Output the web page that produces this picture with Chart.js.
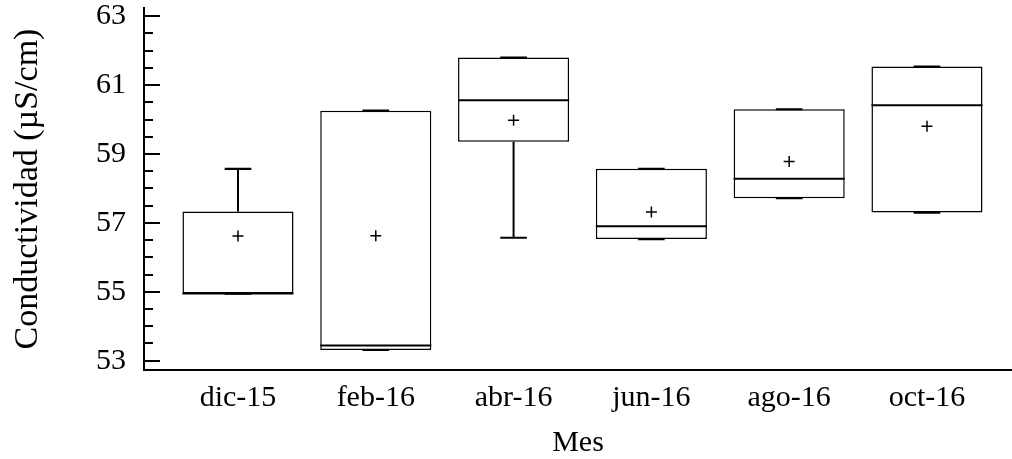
<!DOCTYPE html>
<html>
<head>
<meta charset="utf-8">
<script src="https://cdn.jsdelivr.net/npm/chart.js@4/dist/chart.umd.min.js"></script>
<style>
  html, body { margin: 0; padding: 0; background: #ffffff; }
  canvas { display: block; }
</style>
</head>
<body>
<canvas id="c" width="1012" height="459"></canvas>
<script>
// ---- data ----
const categories = ['dic-15', 'feb-16', 'abr-16', 'jun-16', 'ago-16', 'oct-16'];
const minValues    = [54.95, 53.31, 56.57, 56.53, 57.72, 57.30];
const q1Values     = [54.95, 53.31, 59.36, 56.53, 57.72, 57.30];
const medianValues = [54.95, 53.44, 60.56, 56.90, 58.28, 60.42];
const q3Values     = [57.33, 60.26, 61.80, 58.57, 60.30, 61.54];
const maxValues    = [58.57, 60.26, 61.80, 58.57, 60.30, 61.54];
const meanValues   = [56.62, 56.63, 59.98, 57.32, 58.78, 59.81];
const yTickLabels  = [53, 55, 57, 59, 61, 63];
const yMinorStep   = 0.5;

const FONT = "'Liberation Serif', 'Times New Roman', serif";

const boxExtras = {
  id: 'boxExtras',
  afterDatasetDraw(chart, args) {
    if (args.index !== 0) return;
    const ctx = chart.ctx;
    const x = chart.scales.x, y = chart.scales.y;
    const meta = chart.getDatasetMeta(0);
    ctx.save();
    ctx.strokeStyle = '#000';
    categories.forEach((c, i) => {
      const bar = meta.data[i];
      const cx = x.getPixelForValue(i);
      const half = bar.width / 2;
      const capHalf = bar.width * 0.12;
      const pMin = y.getPixelForValue(minValues[i]);
      const pMax = y.getPixelForValue(maxValues[i]);
      const pQ1 = y.getPixelForValue(q1Values[i]);
      const pQ3 = y.getPixelForValue(q3Values[i]);
      const pMed = y.getPixelForValue(medianValues[i]);
      // whiskers
      ctx.lineWidth = 2;
      ctx.beginPath();
      ctx.moveTo(cx, pQ3); ctx.lineTo(cx, pMax);
      ctx.moveTo(cx, pQ1); ctx.lineTo(cx, pMin);
      ctx.stroke();
      // caps
      ctx.lineWidth = 2.2;
      ctx.beginPath();
      ctx.moveTo(cx - capHalf, pMax); ctx.lineTo(cx + capHalf, pMax);
      ctx.moveTo(cx - capHalf, pMin); ctx.lineTo(cx + capHalf, pMin);
      ctx.stroke();
      // median
      ctx.lineWidth = 2;
      ctx.beginPath();
      ctx.moveTo(cx - half, pMed); ctx.lineTo(cx + half, pMed);
      ctx.stroke();
    });
    ctx.restore();
  }
};

const inwardTicks = {
  id: 'inwardTicks',
  afterDraw(chart) {
    const ctx = chart.ctx;
    const y = chart.scales.y;
    const left = chart.chartArea.left;
    ctx.save();
    ctx.strokeStyle = '#000';
    ctx.lineWidth = 2;
    const lo = yTickLabels[0], hi = yTickLabels[yTickLabels.length - 1];
    const n = Math.round((hi - lo) / yMinorStep);
    for (let k = 0; k <= n; k++) {
      const v = lo + k * yMinorStep;
      const major = yTickLabels.indexOf(v) >= 0;
      const p = Math.round(y.getPixelForValue(v));
      ctx.beginPath();
      ctx.moveTo(left, p);
      ctx.lineTo(left + (major ? 16 : 9), p);
      ctx.stroke();
    }
    ctx.restore();
  }
};

new Chart(document.getElementById('c'), {
  type: 'bar',
  data: {
    datasets: [
      {
        type: 'bar',
        data: categories.map((c, i) => ({ x: i, y: [q1Values[i], q3Values[i]] })),
        backgroundColor: '#ffffff',
        borderColor: '#000000',
        borderWidth: 1.5,
        borderSkipped: false,
        barPercentage: 0.806,
        categoryPercentage: 1.0,
        order: 2
      },
      {
        type: 'scatter',
        data: categories.map((c, i) => ({ x: i, y: meanValues[i] })),
        pointStyle: 'cross',
        pointRadius: 5.5,
        borderColor: '#000000',
        backgroundColor: '#000000',
        borderWidth: 1.5,
        order: 1
      }
    ]
  },
  options: {
    responsive: false,
    devicePixelRatio: 1,
    animation: false,
    events: [],
    layout: { autoPadding: false, padding: { top: 8, left: 0, right: 0, bottom: 0 } },
    plugins: { legend: { display: false }, tooltip: { enabled: false } },
    scales: {
      x: {
        type: 'linear',
        offset: false,
        min: -0.682,
        max: 5.617,
        afterBuildTicks(scale) { scale.ticks = categories.map((c, i) => ({ value: i })); },
        afterFit(scale) {
          scale.height = 89;
          scale.paddingLeft = 0; scale.paddingRight = 0;
          scale.paddingTop = 0; scale.paddingBottom = 0;
        },
        grid: { display: false, drawTicks: false, offset: false },
        border: { display: true, color: '#000', width: 2 },
        ticks: {
          autoSkip: false, maxRotation: 0, padding: 10,
          color: '#000',
          font: { family: FONT, size: 30 },
          callback: (v) => categories[v]
        },
        title: {
          display: true, text: 'Mes', color: '#000',
          font: { family: FONT, size: 30, lineHeight: 1 },
          padding: { top: 0, bottom: 1 }
        }
      },
      y: {
        min: 52.73,
        max: 63.24,
        afterBuildTicks(scale) { scale.ticks = yTickLabels.map(v => ({ value: v })); },
        afterFit(scale) {
          scale.width = 144;
          scale.paddingTop = 0; scale.paddingBottom = 0;
          scale.paddingLeft = 0; scale.paddingRight = 0;
        },
        grid: { display: false, drawTicks: false },
        border: { display: true, color: '#000', width: 2 },
        ticks: {
          padding: 18,
          color: '#000',
          font: { family: FONT, size: 30 },
          callback: (v) => String(v)
        },
        title: {
          display: true, text: 'Conductividad (µS/cm)', color: '#000',
          font: { family: FONT, size: 34, lineHeight: 1.2 },
          padding: { top: 8, bottom: 0 }
        }
      }
    }
  },
  plugins: [boxExtras, inwardTicks]
});
</script>
</body>
</html>
